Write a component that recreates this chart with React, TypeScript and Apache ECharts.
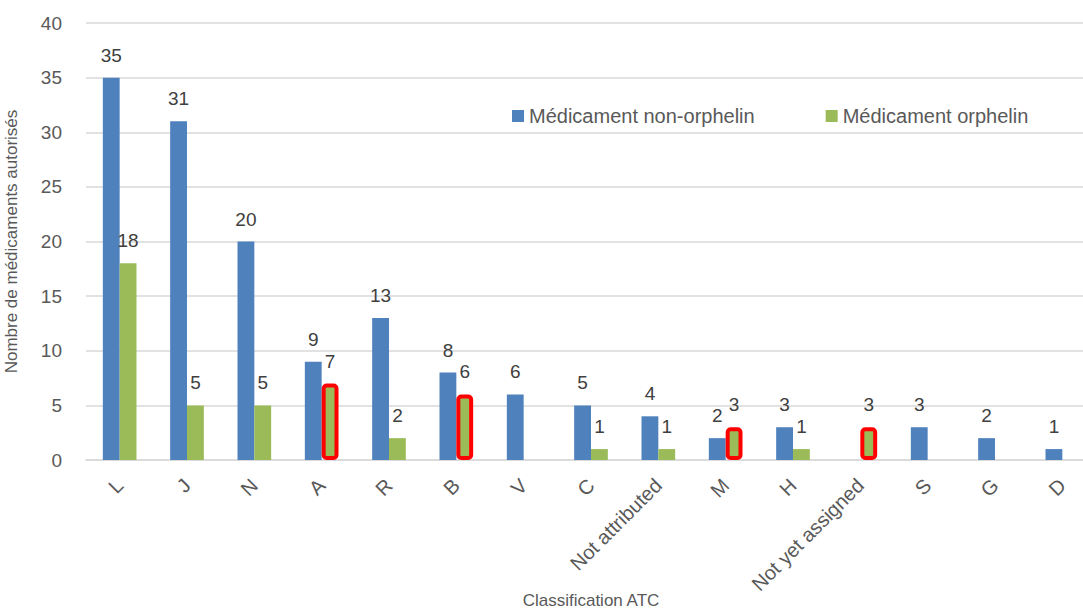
import React, { useEffect, useRef } from "react";
import * as echarts from "echarts";

const categories = ["L", "J", "N", "A", "R", "B", "V", "C", "Not attributed", "M", "H", "Not yet assigned", "S", "G", "D"];
const nonOrphan: (number | null)[] = [35, 31, 20, 9, 13, 8, 6, 5, 4, 2, 3, null, 3, 2, 1];
const orphan: (number | null)[] = [18, 5, 5, 7, 2, 6, null, 1, 1, 3, 1, 3, null, null, null];
const highlighted = ["A", "B", "M", "Not yet assigned"];
const yTicks = { min: 0, max: 40, interval: 5 };

const FONT = "Liberation Sans";
const TXT = "#595959";

export default function App() {
  const ref = useRef<HTMLDivElement>(null);
  useEffect(() => {
    if (!ref.current) return;
    const chart = echarts.init(ref.current, null, { renderer: "svg" });
    chart.setOption({
      animation: false,
      textStyle: { fontFamily: FONT },
      legend: {
        top: 101,
        left: 507,
        itemWidth: 12,
        itemHeight: 12,
        itemGap: 71,
        icon: "rect",
        textStyle: { fontSize: 20, color: TXT, fontFamily: FONT },
        data: ["Médicament non-orphelin", "Médicament orphelin"],
      },
      grid: { left: 86, right: 4, top: 23, bottom: 149, containLabel: false, outerBoundsMode: "none" },
      xAxis: {
        type: "category",
        data: categories,
        name: "Classification ATC",
        nameLocation: "middle",
        nameGap: 132,
        nameMoveOverlap: false,
        nameTextStyle: { fontSize: 17, color: TXT, fontFamily: FONT },
        axisLine: { lineStyle: { color: "#d9d9d9", width: 1.5 } },
        axisTick: { show: false },
        axisLabel: { rotate: 45, fontSize: 20, color: TXT, fontFamily: FONT, margin: 22, interval: 0 },
      },
      yAxis: {
        type: "value",
        min: yTicks.min,
        max: yTicks.max,
        interval: yTicks.interval,
        name: "Nombre de médicaments autorisés",
        nameLocation: "middle",
        nameGap: 66,
        nameMoveOverlap: false,
        nameTextStyle: { fontSize: 17, color: TXT, fontFamily: FONT },
        axisLine: { show: false },
        axisTick: { show: false },
        axisLabel: { fontSize: 19, color: TXT, fontFamily: FONT, margin: 24 },
        splitLine: { lineStyle: { color: "#d9d9d9", width: 1.5 } },
      },
      series: [
        {
          name: "Médicament non-orphelin",
          type: "bar",
          data: nonOrphan,
          barGap: "0%",
          barCategoryGap: "50%",
          itemStyle: { color: "#4f81bd" },
          label: { show: true, position: "top", fontSize: 19, color: "#404040", fontFamily: FONT, distance: 13 },
        },
        {
          name: "Médicament orphelin",
          type: "bar",
          data: orphan.map((v, i) =>
            highlighted.includes(categories[i]) && v != null
              ? { value: v, itemStyle: { color: "#9bbb59", borderColor: "#ff0000", borderWidth: 4, borderRadius: 3 } }
              : v
          ),
          barGap: "0%",
          barCategoryGap: "50%",
          itemStyle: { color: "#9bbb59" },
          label: { show: true, position: "top", fontSize: 19, color: "#404040", fontFamily: FONT, distance: 13 },
        },
      ],
    });
    return () => chart.dispose();
  }, []);
  return (
    <div style={{ position: "absolute", left: 0, top: 0, width: 1083, height: 609, overflow: "hidden" }}>
      <div ref={ref} style={{ width: 1100, height: 609 }} />
    </div>
  );
}
